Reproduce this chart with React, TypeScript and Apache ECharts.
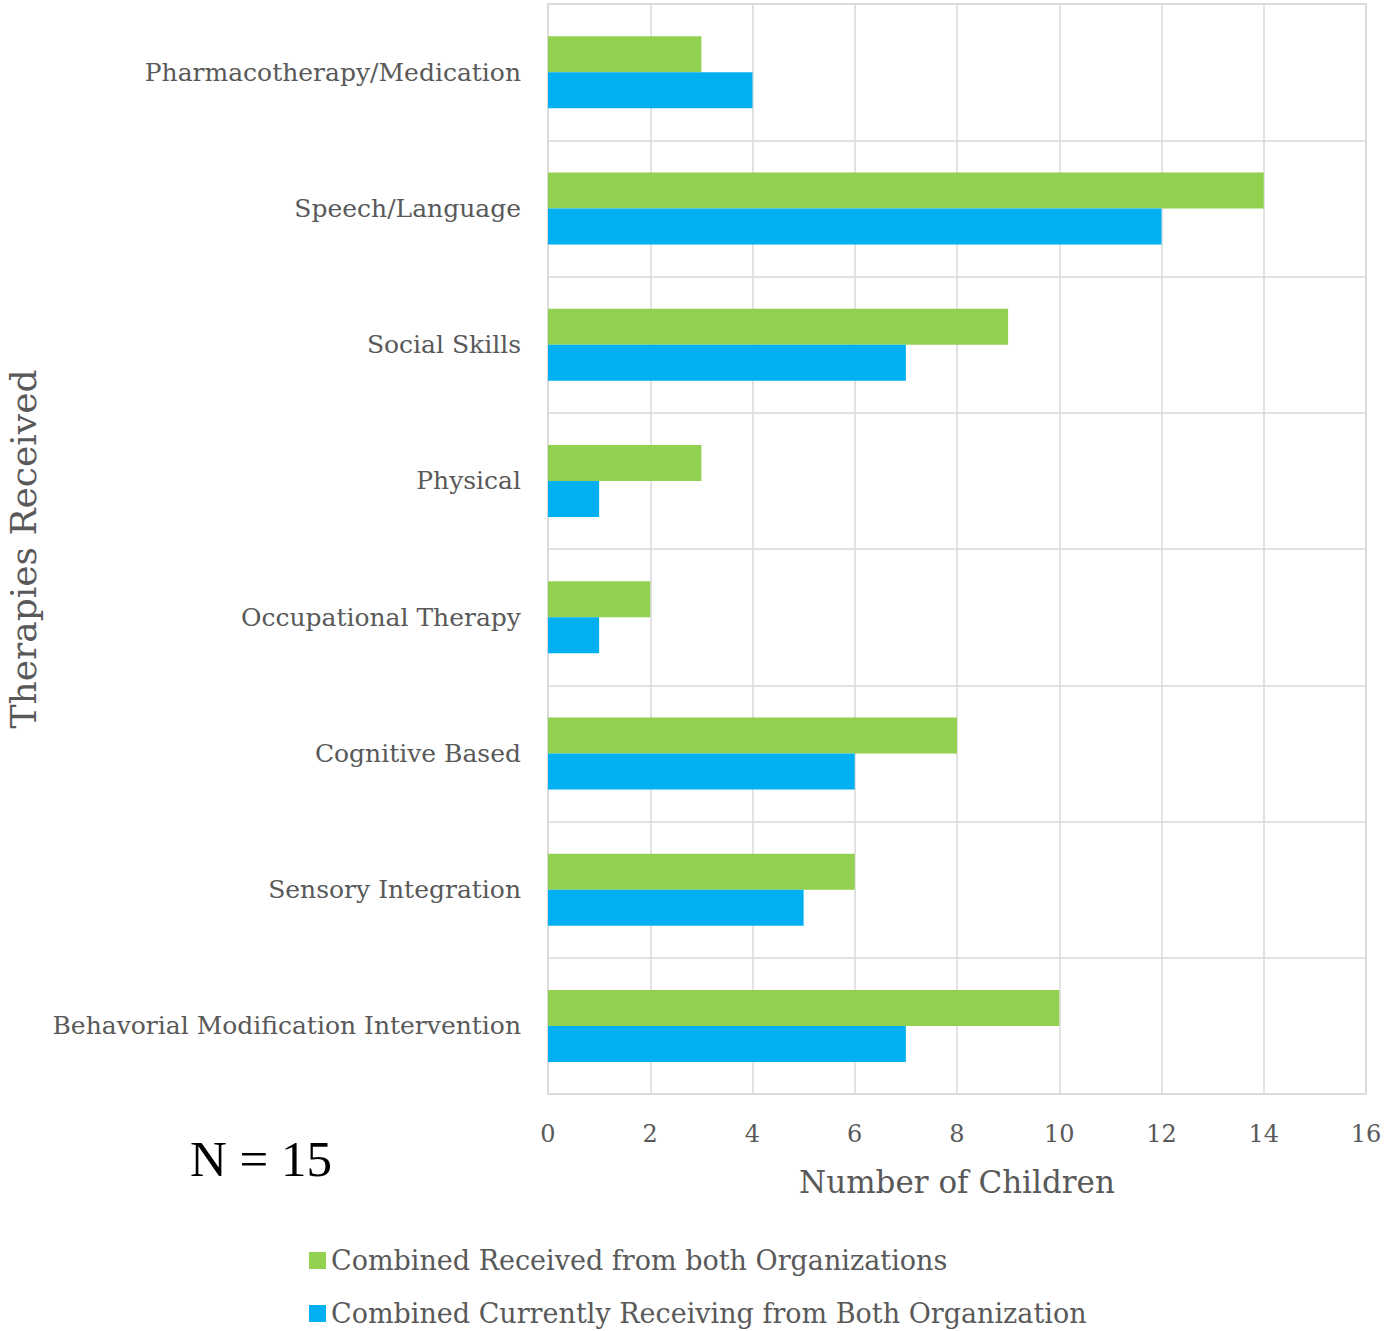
import React, { useEffect, useRef } from "react";
import * as echarts from "echarts";

const categories = [
  "Pharmacotherapy/Medication",
  "Speech/Language",
  "Social Skills",
  "Physical",
  "Occupational Therapy",
  "Cognitive Based",
  "Sensory Integration",
  "Behavorial Modification Intervention",
];
const receivedValues = [3, 14, 9, 3, 2, 8, 6, 10];
const currentValues = [4, 12, 7, 1, 1, 6, 5, 7];
const seriesNames = [
  "Combined Received from both Organizations",
  "Combined Currently Receiving from Both Organization",
];
const xTicks = { min: 0, max: 16, interval: 2 };

const FONT = "DejaVu Serif";
const GREY = "#595959";

const legendBase = {
  orient: "horizontal",
  left: 304,
  itemWidth: 17,
  itemHeight: 17,
  icon: "rect",
  textStyle: { fontFamily: FONT, fontSize: 27, color: GREY },
};

export default function App() {
  const ref = useRef<HTMLDivElement>(null);
  useEffect(() => {
    const chart = echarts.init(ref.current!, undefined, { renderer: "svg" });
    chart.setOption({
      animation: false,
      textStyle: { fontFamily: FONT },
      grid: {
        left: 548,
        top: 4,
        right: 18,
        bottom: 237,
        show: true,
        borderColor: "#d9d9d9",
        borderWidth: 1.5,
        outerBoundsMode: "none",
      },
      legend: [
        { ...legendBase, top: 1242, data: [seriesNames[0]] },
        { ...legendBase, top: 1295, data: [seriesNames[1]] },
      ],
      xAxis: {
        type: "value",
        min: xTicks.min,
        max: xTicks.max,
        interval: xTicks.interval,
        axisLine: { show: false },
        axisTick: { show: false },
        axisLabel: { fontFamily: FONT, fontSize: 24, color: GREY, margin: 28 },
        splitLine: { lineStyle: { color: "#d9d9d9", width: 1.5 } },
        name: "Number of Children",
        nameLocation: "middle",
        nameGap: 72,
        nameTextStyle: { fontFamily: FONT, fontSize: 31, color: GREY },
      },
      yAxis: {
        type: "category",
        inverse: true,
        data: categories,
        axisLine: { show: false },
        axisTick: { show: false },
        axisLabel: { fontFamily: FONT, fontSize: 25, color: GREY, margin: 27 },
        splitLine: { show: true, lineStyle: { color: "#d9d9d9", width: 1.5 } },
        name: "Therapies Received",
        nameLocation: "middle",
        nameGap: 501,
        nameTextStyle: { fontFamily: FONT, fontSize: 36, color: GREY },
      },
      series: [
        {
          name: seriesNames[0],
          type: "bar",
          data: receivedValues,
          barWidth: 36,
          barGap: "0%",
          itemStyle: { color: "#92D050" },
        },
        {
          name: seriesNames[1],
          type: "bar",
          data: currentValues,
          barWidth: 36,
          barGap: "0%",
          itemStyle: { color: "#00B0F0" },
        },
      ],
      graphic: [
        {
          type: "text",
          left: 190,
          top: 1133,
          style: { text: "N = 15", fontFamily: "Liberation Serif", fontSize: 51, fill: "#000" },
        },
      ],
    });
    return () => chart.dispose();
  }, []);
  return <div ref={ref} style={{ position: "absolute", left: 0, top: 0, width: 1384, height: 1331 }} />;
}
